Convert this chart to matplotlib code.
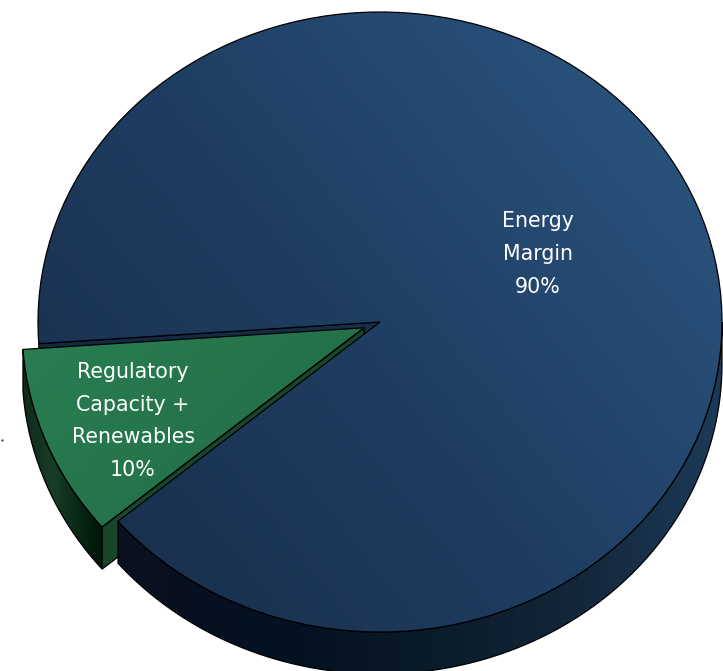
#!/usr/bin/env python3

import numpy as np
import matplotlib
matplotlib.use("Agg")
import matplotlib.pyplot as plt
from matplotlib.colors import LinearSegmentedColormap
from matplotlib.patches import Polygon

labels = ["Energy\nMargin", "Regulatory\nCapacity +\nRenewables"]
values = [90, 10]
explode = [0, 0.05]

W, H = 723, 671
# pie centre and radii in pixels, the tilted disc is an ellipse
CX, CY, RX, RY = 380, 322, 342, 310
DEPTH = 42 / RY

plt.rcParams["font.family"] = ["DejaVu Sans"]

fig = plt.figure(figsize=(W / 100, H / 100), dpi=100)
ax = fig.add_axes([0, 0, 1, 1])

wedges, _ = ax.pie(values, explode=explode, startangle=220, counterclock=True)
ax.set_aspect("auto")
ax.axis("off")

xlim = ((0 - CX) / RX, (W - CX) / RX)
ylim = ((CY - H) / RY, CY / RY)


def gradient_fill(patch, colors, dx, dy, zorder):
    # linear gradient along (dx, dy) in pixels, clipped to the patch
    px, py = np.meshgrid(np.linspace(0, W, 300), np.linspace(0, H, 300))
    t = px * dx - py * dy
    t = (t - t.min()) / (t.max() - t.min())
    cmap = LinearSegmentedColormap.from_list("g", colors)
    im = ax.imshow(t, cmap=cmap, extent=(xlim[0], xlim[1], ylim[0], ylim[1]),
                   origin="upper", aspect="auto", zorder=zorder, vmin=0, vmax=1)
    patch.set_zorder(zorder + 0.5)
    patch.set_facecolor("none")
    patch.set_edgecolor("black")
    patch.set_linewidth(0.9)
    if patch.axes is None:
        ax.add_patch(patch)
    im.set_clip_path(patch)


def band(w, a, b):
    # outer wall of a slice between two angles
    th = np.radians(np.linspace(a, b, 160))
    x = w.center[0] + w.r * np.cos(th)
    y = w.center[1] + w.r * np.sin(th)
    top = np.column_stack([x, y])
    low = np.column_stack([x, y - DEPTH])[::-1]
    return Polygon(np.vstack([top, low]), closed=True)


def cut(w, ang):
    # flat inner wall along one radius of a slice
    c = np.array(w.center)
    e = c + w.r * np.array([np.cos(np.radians(ang)), np.sin(np.radians(ang))])
    d = np.array([0, DEPTH])
    return Polygon([c, e, e - d, c - d], closed=True)


blue, green = wedges

wall_blue = ["#0e1122", "#0a1020", "#031220", "#0a1b2a", "#13273a", "#1c3a58"]
# stops sit at the slice's own x range, it only spans a small part of the width
wall_green = [(0, "#0f2a1a"), (0.03, "#0f2a1a"), (0.07, "#173d27"),
              (0.13, "#00190a"), (1, "#00190a")]
top_blue = ["#172a44", "#1f3d62", "#2d5a85"]
top_green = ["#1b5638", "#2e8c5a"]

# inner wall of the large slice, seen through the gap
gradient_fill(cut(blue, blue.theta2), ["#12263f", "#1a3755"], 1, 0, 1)

# exploded slice: walls first, then the top face
gradient_fill(band(green, green.theta1, green.theta2), wall_green, 1, 0, 2)
gradient_fill(cut(green, green.theta2), ["#17472a", "#17472a"], 1, 0, 2.6)
gradient_fill(green, top_green, -0.7, 0.7, 3)

# large slice
gradient_fill(band(blue, blue.theta1, 360), wall_blue, 1, 0, 4)
gradient_fill(blue, top_blue, 1, 0.8, 5)

ax.set_xlim(xlim)
ax.set_ylim(ylim)


def to_pie(px, py):
    return (px - CX) / RX, (CY - py) / RY


label_pos = [(538, 254), (133, 421)]
for lab, val, pos in zip(labels, values, label_pos):
    x, y = to_pie(*pos)
    ax.text(x, y, f"{lab}\n{val}%", color="white", fontsize=14.8, ha="center",
            va="center", linespacing=1.8, zorder=10)

# stray speck at the left edge
sx, sy = to_pie(2, 440)
ax.plot([sx], [sy], marker="o", ms=1.6, color="#333333", mew=0, zorder=10)

fig.savefig("out.png", dpi=100)
